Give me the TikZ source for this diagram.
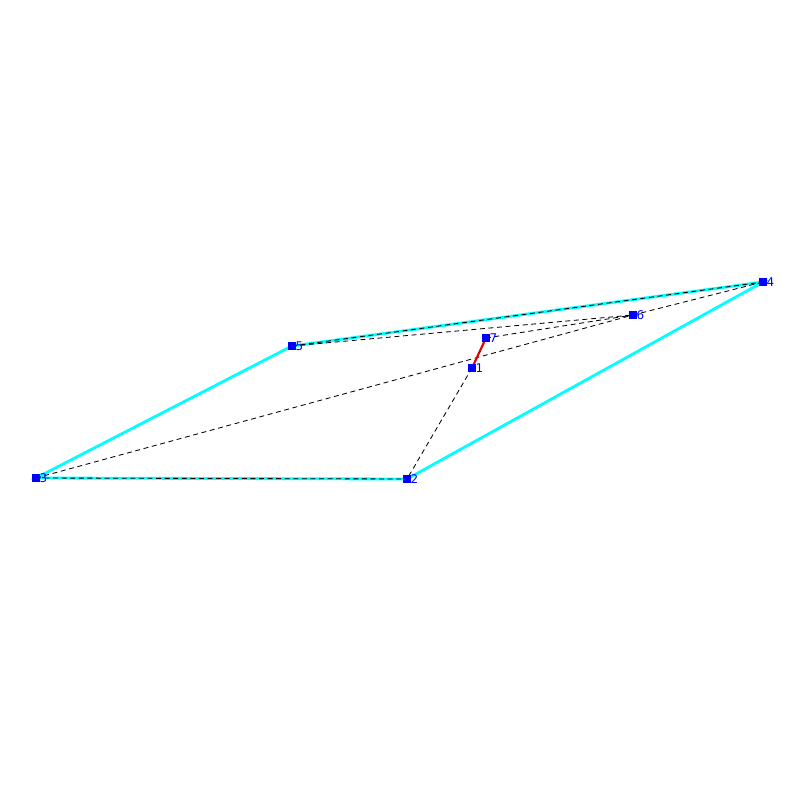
\documentclass[tikz,border=0pt]{standalone}
\usepackage{fontspec}
\setsansfont{DejaVu Sans}
\usepackage{tikz}
\definecolor{hullcyan}{RGB}{0,255,255}
\definecolor{vtxblue}{RGB}{0,0,255}
\definecolor{cutred}{RGB}{220,0,0}

\begin{document}
\begin{tikzpicture}[x=0.025cm, y=-0.025cm,
    hull/.style={hullcyan, line width=2pt},
    diag/.style={black, line width=0.6pt, dash pattern=on 3.5pt off 2.6pt},
    cut/.style={cutred, line width=1.5pt},
    vtx/.style={fill=vtxblue, inner sep=0pt, minimum size=5pt},
    lbl/.style={vtxblue, font=\sffamily\fontsize{8.5}{9}\selectfont, inner sep=0pt, anchor=west, xshift=-0.3pt}]
    \useasboundingbox (0,0) rectangle (800,800);

    % Points
    \foreach \n/\x/\y in {1/472/368, 2/407/479, 3/36/478, 4/763/282, 5/292/346, 6/633/315, 7/486/338}
        \coordinate (p\n) at (\x,\y);

    % Outer polygon
    \draw[hull] (p3) -- (p5) -- (p4) -- (p2) -- cycle;

    % Dashed edges
    \draw[diag] (p3) -- (p2);
    \draw[diag] (p5) -- (p4);
    \draw[diag] (p5) -- (p6);
    \draw[diag] (p7) -- (p6);
    \draw[diag] (p3) -- (p6);
    \draw[diag] (p6) -- (p4);
    \draw[diag] (p1) -- (p2);

    % Red segment
    \draw[cut] (p1) -- (p7);

    % Vertices and labels
    \foreach \n in {1,...,7} {
        \node[vtx] (v\n) at (p\n) {};
        \node[lbl] (l\n) at (v\n.east) {\n};
    }
\end{tikzpicture}
\end{document}
